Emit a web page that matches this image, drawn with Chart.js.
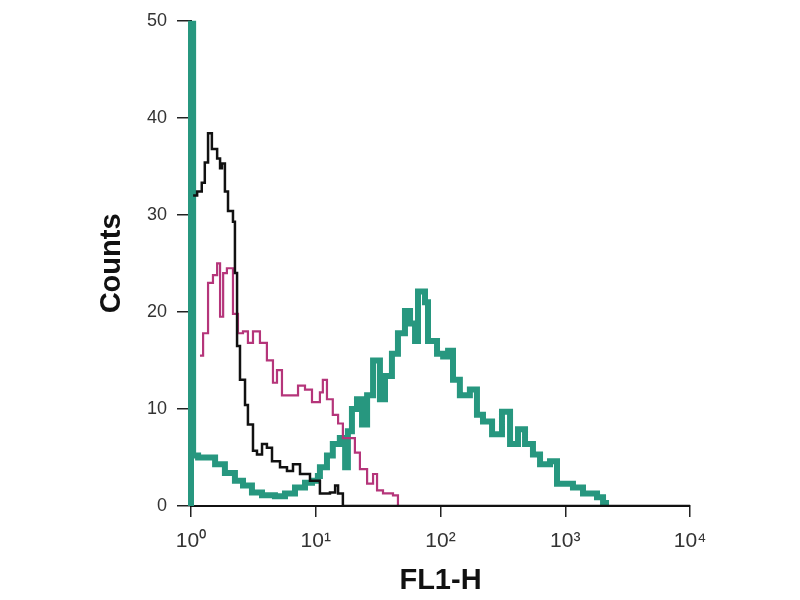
<!DOCTYPE html>
<html>
<head>
<meta charset="utf-8">
<script src="https://cdn.jsdelivr.net/npm/chart.js@4"></script>
<style>
  html, body { margin: 0; padding: 0; background: #fff; }
  canvas { display: block; }
</style>
</head>
<body>
<canvas id="chart" width="800" height="600"></canvas>
<script>
// FL1-H decade ticks
const tickValues = [1, 10, 100, 1000, 10000];
const tickLabels = ["10\u2070", "10\u00b9", "10\u00b2", "10\u00b3", "10\u2074"];

// isotype control (black)
const blackX = [1.04, 1.12, 1.22, 1.29, 1.37, 1.47, 1.62, 1.71, 1.77, 1.87, 1.98, 2.17, 2.25, 2.34, 2.47, 2.71, 2.86, 3.14, 3.38, 3.71, 4.06, 4.46, 5.17, 5.88, 6.57, 7.48, 8.99, 10.8, 13.0, 14.3, 15.1, 16.5, 10000];
const blackY = [32, 32.4, 33.3, 35.4, 38.4, 36.8, 35.8, 34.8, 35.3, 32.4, 30.4, 29.3, 24, 16.5, 13, 10.4, 8.4, 5.7, 5.3, 6.4, 6, 4.6, 4, 3.6, 4.3, 3.3, 2.6, 1.3, 1.4, 2.1, 1.3, 0, 0];

// magenta
const pinkX = [1.18, 1.25, 1.37, 1.50, 1.62, 1.71, 1.81, 1.94, 2.17, 2.38, 2.61, 2.86, 3.14, 3.57, 4.06, 4.54, 4.89, 5.36, 6.22, 7.21, 8.20, 9.33, 10.8, 11.4, 12.3, 13.7, 15.1, 16.5, 18.1, 20.6, 22.6, 25.8, 28.8, 31.0, 34.6, 41.6, 45.6];
const pinkY = [15.5, 17.8, 23, 23.8, 25, 19.5, 24, 24.5, 19.8, 17.8, 18, 16.8, 18, 16.8, 15, 12.7, 14, 11.4, 11.4, 12.4, 12, 10.7, 11.7, 13, 11, 9.4, 8.5, 7, 7, 5.5, 3.8, 2.3, 3.3, 1.6, 1.3, 1.1, 0];

// teal
const tealX = [1.0, 1.0, 1.04, 1.14, 1.29, 1.56, 1.87, 2.25, 2.61, 3.08, 3.71, 4.71, 5.67, 6.82, 8.20, 9.33, 10.4, 10.8, 12.3, 13.7, 15.6, 17.2, 18.1, 19.5, 21.4, 23.5, 25.8, 28.8, 32.7, 35.9, 40.8, 45.6, 51.9, 57.0, 62.5, 66.0, 75.1, 79.4, 93.8, 105, 115, 126, 143, 172, 196, 219, 259, 311, 361, 418, 476, 551, 628, 755, 859, 1153, 1387, 1798, 2009, 2123];
const tealY = [0, 60, 5.2, 5, 5, 4.3, 3.4, 2.6, 2.1, 1.4, 1.1, 1.0, 1.3, 1.9, 2.4, 2.6, 3.1, 4, 5.2, 6.4, 7, 4, 7.7, 10, 11, 8.4, 11.4, 15, 11, 13.4, 15.7, 17.8, 20.1, 18.8, 17, 22.1, 21, 17, 15.7, 15.4, 16, 13, 11.4, 12, 9.4, 8.7, 7.4, 9.7, 6.4, 7.9, 6.4, 5.3, 4.3, 4.6, 2.3, 1.9, 1.3, 0.9, 0.3, 0];

const toPoints = (xs, ys) => xs.map((x, i) => ({ x: x, y: ys[i] }));

new Chart(document.getElementById("chart"), {
  type: "line",
  data: {
    datasets: [
      { data: toPoints(blackX, blackY), borderColor: "#111", borderWidth: 2.5, stepped: true, pointRadius: 0, fill: false },
      { data: toPoints(pinkX, pinkY), borderColor: "#b5357a", borderWidth: 2.2, stepped: true, pointRadius: 0, fill: false },
      {
        data: toPoints(tealX, tealY), borderColor: "#27977f", borderWidth: 6, stepped: true, pointRadius: 0, fill: false,
        clip: { left: 4, top: 0, right: 4, bottom: 4 },
      },
    ],
  },
  options: {
    responsive: false,
    animation: false,
    layout: { padding: { left: 0, right: 110, top: 13, bottom: 0 } },
    plugins: { legend: { display: false }, tooltip: { enabled: false } },
    scales: {
      x: {
        type: "logarithmic",
        min: 1,
        max: 10000,
        afterBuildTicks: (scale) => { scale.ticks = tickValues.map((v) => ({ value: v })); },
        afterFit: (scale) => { scale.height = 94; },
        ticks: {
          autoSkip: false,
          maxRotation: 0,
          padding: 12,
          color: "#333",
          font: { family: "'Liberation Sans Narrow', 'Liberation Sans', sans-serif", size: 21 },
          callback: (value, index) => tickLabels[index],
        },
        grid: { drawOnChartArea: false, drawTicks: true, tickLength: 11, color: "#222", lineWidth: 1.5 },
        border: { display: true, color: "#111", width: 2 },
        title: {
          display: true,
          text: "FL1-H",
          color: "#111",
          font: { family: "'Liberation Sans', Arial, sans-serif", size: 29, weight: "bold" },
          padding: { top: 0, bottom: 2 },
        },
      },
      y: {
        min: 0,
        max: 50,
        afterFit: (scale) => { scale.width = 191; },
        ticks: {
          stepSize: 10,
          padding: 10,
          color: "#333",
          font: { family: "'Liberation Sans', Arial, sans-serif", size: 18 },
        },
        grid: { drawOnChartArea: false, drawTicks: true, tickLength: 14, color: "#222", lineWidth: 1.5 },
        border: { display: true, color: "#111", width: 2 },
        title: {
          display: true,
          text: "Counts",
          color: "#111",
          font: { family: "'Liberation Sans', Arial, sans-serif", size: 29, weight: "bold" },
          padding: { top: 95, bottom: 0 },
        },
      },
    },
  },
});
</script>
</body>
</html>
